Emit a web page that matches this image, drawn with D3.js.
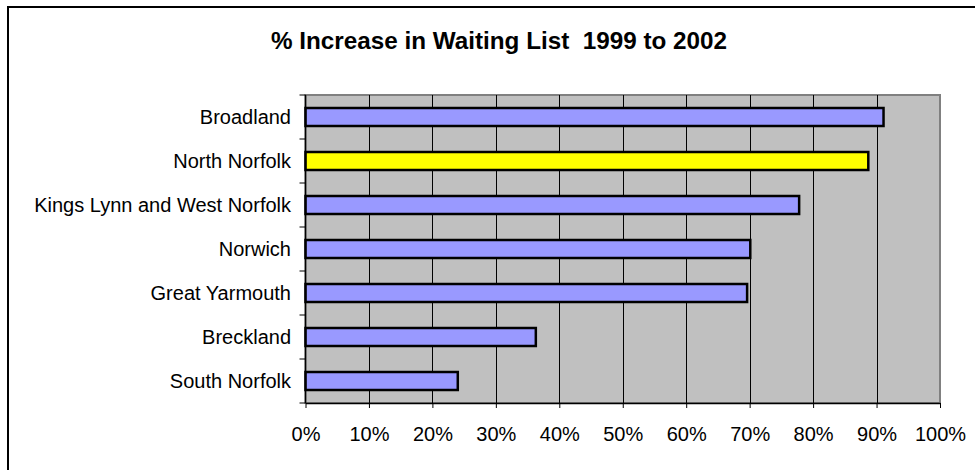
<!DOCTYPE html>
<html><head><meta charset="utf-8">
<script src="https://cdn.jsdelivr.net/npm/d3@7"></script>
<style>
body{margin:0;background:#fff;}
svg{display:block;font-family:"Liberation Sans",Arial,sans-serif;}
</style></head>
<body>
<svg id="chart" width="975" height="470"></svg>
<script>
const title = "% Increase in Waiting List  1999 to 2002";
const categories = ["Broadland","North Norfolk","Kings Lynn and West Norfolk","Norwich","Great Yarmouth","Breckland","South Norfolk"];
const values = [0.911, 0.887, 0.778, 0.701, 0.696, 0.363, 0.240];
const highlight = ["North Norfolk"];
const xTicks = [0,0.1,0.2,0.3,0.4,0.5,0.6,0.7,0.8,0.9,1.0];

const svg = d3.select("#chart");
const m = {left:305.5, right:940, top:95, bottom:403};

// outer frame
svg.append("rect").attr("x",8).attr("y",7).attr("width",1000).attr("height",500)
  .attr("fill","#fff").attr("stroke","#000").attr("stroke-width",2);

const x = d3.scaleLinear().domain([0,1]).range([m.left,m.right]);
const yb = d3.scaleBand().domain(categories).range([m.top,m.bottom]);

// plot background
svg.append("rect").attr("x",m.left).attr("y",m.top).attr("width",m.right-m.left).attr("height",m.bottom-m.top)
  .attr("fill","#C0C0C0").attr("stroke","#808080").attr("stroke-width",2);

// gridlines
svg.append("g").selectAll("line").data(xTicks.slice(1,-1)).join("line")
  .attr("x1",d=>Math.round(x(d))+0.5).attr("x2",d=>Math.round(x(d))+0.5)
  .attr("y1",m.top).attr("y2",m.bottom).attr("stroke","#000").attr("stroke-width",1);

// bars
svg.append("g").selectAll("rect").data(categories).join("rect")
  .attr("x",x(0)).attr("y",d=>yb(d)+yb.bandwidth()/2-9)
  .attr("width",(d,i)=>x(values[i])-x(0)).attr("height",18)
  .attr("fill",d=>highlight.includes(d)?"#FFFF00":"#9999FF")
  .attr("stroke","#000").attr("stroke-width",2.5);

// x axis
const xAxis = d3.axisBottom(x).tickValues(xTicks).tickFormat(d3.format(".0%")).tickSizeOuter(0).tickSizeInner(5).tickPadding(19);
const gx = svg.append("g").attr("transform",`translate(0,${m.bottom})`).call(xAxis);
gx.select(".domain").attr("stroke","#000").attr("stroke-width",1.5);
gx.selectAll(".tick line").attr("stroke","#000");
gx.selectAll("text").attr("font-size",20).attr("fill","#000").attr("font-family","Liberation Sans, Arial, sans-serif");

// y axis (ticks at band boundaries)
const gy = svg.append("g");
gy.append("line").attr("x1",m.left).attr("x2",m.left).attr("y1",m.top).attr("y2",m.bottom).attr("stroke","#000").attr("stroke-width",1.5);
const bounds = categories.map(c=>yb(c)).concat([m.bottom]);
gy.selectAll("line.t").data(bounds).join("line").attr("class","t")
  .attr("x1",m.left-6).attr("x2",m.left).attr("y1",d=>d).attr("y2",d=>d).attr("stroke","#000");
gy.selectAll("text").data(categories).join("text")
  .attr("x",291).attr("y",d=>yb(d)+yb.bandwidth()/2+7)
  .attr("text-anchor","end").attr("font-size",20).attr("fill","#000").text(d=>d);

// title
svg.append("text").attr("x",499).attr("y",49).attr("text-anchor","middle")
  .style("white-space","pre").attr("xml:space","preserve")
  .attr("font-size",24).attr("font-weight","bold").attr("fill","#000")
  .attr("textLength",456).attr("lengthAdjust","spacingAndGlyphs").text(title);
</script>
</body></html>
